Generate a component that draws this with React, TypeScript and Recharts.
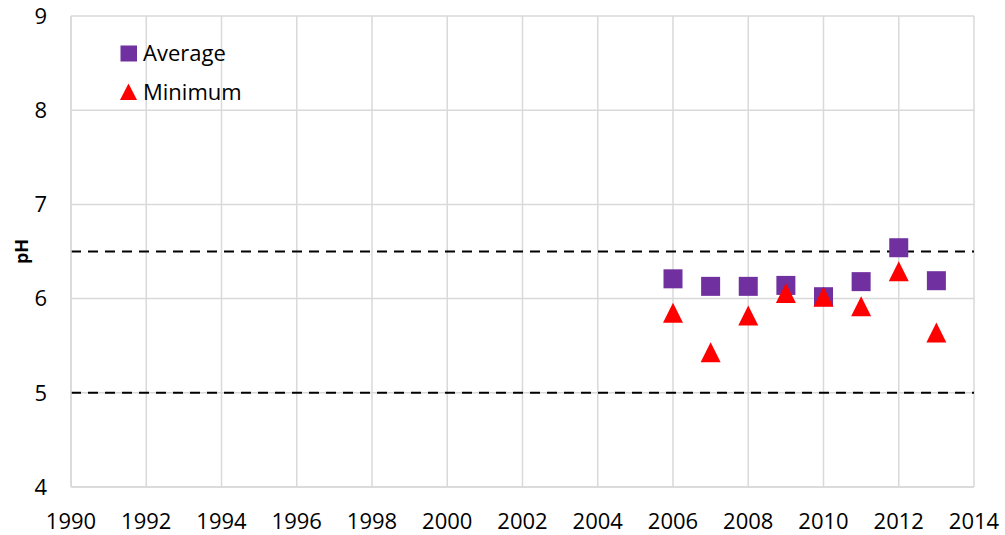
import React from 'react';
import { ScatterChart, Scatter, XAxis, YAxis, CartesianGrid, ReferenceLine, Legend } from 'recharts';

const years = [2006, 2007, 2008, 2009, 2010, 2011, 2012, 2013];
const averageValues = [6.21, 6.13, 6.13, 6.14, 6.02, 6.18, 6.54, 6.19];
const minimumValues = [5.85, 5.43, 5.82, 6.06, 6.02, 5.92, 6.29, 5.64];
const xTicks = [1990, 1992, 1994, 1996, 1998, 2000, 2002, 2004, 2006, 2008, 2010, 2012, 2014];
const yTicks = [4, 5, 6, 7, 8, 9];
const guideLevels = [6.5, 5];

const averageData = years.map((x, i) => ({ x, y: averageValues[i] }));
const minimumData = years.map((x, i) => ({ x, y: minimumValues[i] }));

const FONT = '"Open Sans", sans-serif';
const PURPLE = '#7030A0';
const RED = '#FF0000';
const GRID = '#D9D9D9';

const SquareShape = (props: any) => {
  const { cx, cy } = props;
  const s = 19;
  return <rect x={cx - s / 2} y={cy - s / 2} width={s} height={s} fill={PURPLE} />;
};

const TriangleShape = (props: any) => {
  const { cx, cy } = props;
  const w = 20;
  const h = 20;
  const pts = `${cx},${cy - h / 2} ${cx + w / 2},${cy + h / 2} ${cx - w / 2},${cy + h / 2}`;
  return <polygon points={pts} fill={RED} />;
};

const LegendContent = () => (
  <div style={{ position: 'relative', width: 260, height: 110, fontFamily: FONT, fontSize: 22, color: '#000' }}>
    <svg width={18} height={18} style={{ position: 'absolute', left: 120, top: 45 }}>
      <rect x={0.5} y={0.5} width={16.5} height={16} fill={PURPLE} />
    </svg>
    <span style={{ position: 'absolute', left: 143, top: 37, lineHeight: '30px', whiteSpace: 'nowrap' }}>Average</span>
    <svg width={18} height={18} style={{ position: 'absolute', left: 120, top: 83 }}>
      <polygon points="8.5,0.5 17,17 0,17" fill={RED} />
    </svg>
    <span style={{ position: 'absolute', left: 143, top: 76, lineHeight: '30px', whiteSpace: 'nowrap' }}>Minimum</span>
  </div>
);

const YLabel = (props: any) => {
  const vb = props.viewBox || {};
  const cy = (vb.y ?? 16) + (vb.height ?? 471) / 2;
  const x = 21;
  return (
    <text x={x} y={cy} transform={`rotate(-90, ${x}, ${cy})`} textAnchor="middle" dominantBaseline="central"
      fontFamily={FONT} fontSize={18} fontWeight="bold" fill="#000">pH</text>
  );
};

export default function App() {
  return (
    <div style={{ position: 'absolute', left: 0, top: 0, width: 1005, height: 535, overflow: 'hidden', background: '#fff' }}>
      <ScatterChart width={1005} height={535} margin={{ top: 16, right: 31, bottom: 0, left: 0 }}>
        <CartesianGrid stroke={GRID} strokeWidth={1.5} />
        <XAxis
          type="number"
          dataKey="x"
          domain={[1990, 2014]}
          ticks={xTicks}
          interval={0}
          allowDecimals={false}
          height={48}
          tickSize={0}
          tickMargin={26}
          axisLine={{ stroke: GRID, strokeWidth: 1.5 }}
          tick={{ fontFamily: FONT, fontSize: 22, fill: '#000' }}
        />
        <YAxis
          type="number"
          dataKey="y"
          domain={[4, 9]}
          ticks={yTicks}
          interval={0}
          width={71}
          tickSize={0}
          tickMargin={24}
          axisLine={{ stroke: GRID, strokeWidth: 1.5 }}
          tick={{ fontFamily: FONT, fontSize: 22, fill: '#000' }}
          label={YLabel}
        />
        {guideLevels.map((v) => (
          <ReferenceLine key={v} y={v} stroke="#000" strokeWidth={2} strokeDasharray="10 7" />
        ))}
        <Legend
          layout="horizontal"
          verticalAlign="middle"
          align="center"
          content={LegendContent}
          wrapperStyle={{ position: 'absolute', left: 0, top: 0, width: 260, height: 110 }}
        />
        <Scatter name="Average" data={averageData} shape={SquareShape} isAnimationActive={false} />
        <Scatter name="Minimum" data={minimumData} shape={TriangleShape} isAnimationActive={false} />
      </ScatterChart>
    </div>
  );
}
